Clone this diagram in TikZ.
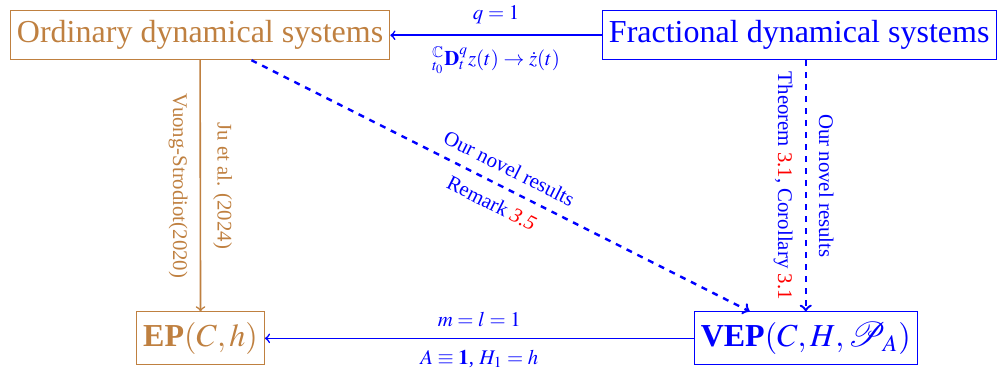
\documentclass[tikz,border=0pt]{standalone}
\usepackage{amssymb}
\usepackage{mathptmx}
\usepackage{mathrsfs}
\usepackage{fontspec}
\setmainfont{Liberation Serif}
\usetikzlibrary{calc}
\definecolor{odebrown}{HTML}{BF8040}
\definecolor{fdeblue}{HTML}{0000FF}
\definecolor{refred}{HTML}{FF0000}

\begin{document}
\begin{tikzpicture}[
  font=\fontsize{10.4}{12.5}\selectfont,
  odebox/.style={draw=odebrown, text=odebrown, minimum height=24.5pt,
                 font=\fontsize{16}{19}\selectfont},
  fdebox/.style={draw=fdeblue, text=fdeblue, minimum height=24.5pt,
                 font=\fontsize{16}{19}\selectfont},
  oldarrow/.style={->, line width=0.8pt, odebrown},
  newarrow/.style={->, line width=0.8pt, fdeblue},
  novel/.style={->, dashed, line width=1.2pt, fdeblue},
  lbl/.style={midway, inner sep=5.5pt},
  vlbl/.style={midway, rotate=-90, inner sep=6pt}]

%% fixed canvas, 999 x 369 px at 0.5pt per px
\useasboundingbox (0,0) rectangle (17.55,6.48);

%% ---- the four problems ----
\node[odebox] (odes) at (3.515,5.860) {Ordinary dynamical systems};
\node[fdebox] (fdes) at (14.04,5.860) {Fractional dynamical systems};
\node[odebox, minimum height=26.5pt] (ep)  at (3.523,0.536) {\textbf{EP}$(C,h)$};
\node[fdebox, minimum height=26.5pt] (vep) at (14.155,0.536) {\textbf{VEP}$(C,H,\mathscr{P}_A)$};

%% ---- top: fractional -> ordinary ----
\draw[newarrow] (fdes.west) -- (odes.east)
  node[lbl, above] {$q=1$}
  node[lbl, below] {${}^{\mathbb{C}}_{t_0}\mathbf{D}^{q}_{t}z(t)\to\dot{z}(t)$};

%% ---- bottom: VEP -> EP ----
\draw[newarrow] (vep.west) -- (ep.east)
  node[lbl, above] {$m=l=1$}
  node[lbl, below] {$A\equiv\mathbf{1}$, $H_1=h$};

%% ---- left: known results ----
\draw[oldarrow] (odes.south) -- (ep.north)
  node[vlbl, anchor=north] {Vuong-Strodiot(2020)}
  node[vlbl, anchor=south] {Ju et al. (2024)};

%% ---- right and diagonal: new results ----
\draw[novel] (vep.north |- fdes.south) -- (vep.north)
  node[vlbl, anchor=north] {Theorem \textcolor{refred}{3.1}, Corollary \textcolor{refred}{3.1}}
  node[vlbl, anchor=south] {Our novel results};

\coordinate (diagstart) at ($(odes.south)!0.27!(odes.south east)$);
\coordinate (diagend) at ($(vep.north west)!0.5!(vep.north)$);
\draw[novel] (diagstart) -- (diagend)
  node[lbl, sloped, above] {Our novel results}
  node[lbl, sloped, below] {Remark \textcolor{refred}{\textit{3.5}}};

\end{tikzpicture}
\end{document}
